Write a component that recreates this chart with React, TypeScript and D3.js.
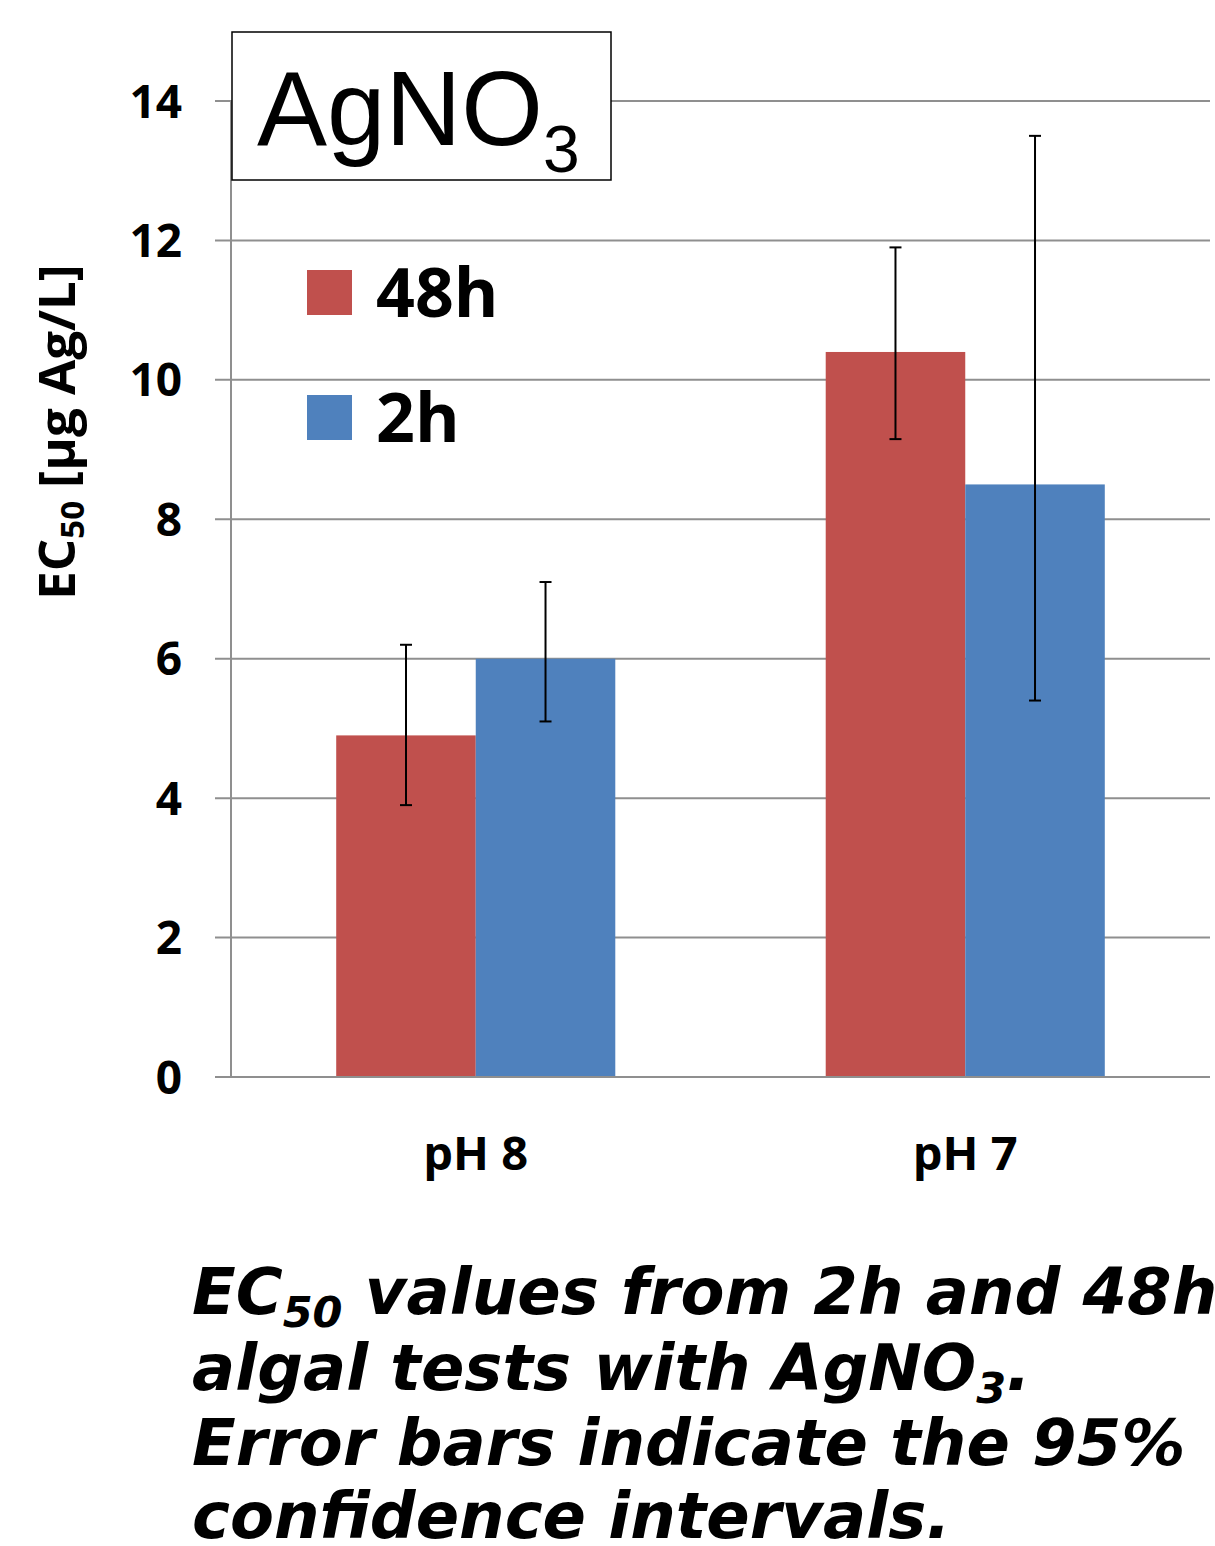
import React from 'react';
import * as d3 from 'd3';

// chart data
const categories = ['pH 8', 'pH 7'];
const seriesNames = ['48h', '2h'];
const seriesColors = ['#C0504D', '#4F81BD'];
const values48h = [4.9, 10.4];
const values2h = [6.0, 8.5];
const lower48h = [3.9, 9.15];
const upper48h = [6.2, 11.9];
const lower2h = [5.1, 5.4];
const upper2h = [7.1, 13.5];
const yTicks = [0, 2, 4, 6, 8, 10, 12, 14];

const W = 1215;
const H = 1546;
const plot = { left: 231, right: 1210, top: 101, bottom: 1077 };

const tickFont = '"Open Sans", "DejaVu Sans", sans-serif';
const captionFont = '"DejaVu Sans", Verdana, sans-serif';

export default function App() {
  const y = d3.scaleLinear().domain([0, 14]).range([plot.bottom, plot.top]);
  const x0 = d3.scaleBand<string>().domain(categories).range([plot.left, plot.right]).padding(0);
  const x1 = d3
    .scaleBand<string>()
    .domain(seriesNames)
    .range([0, x0.bandwidth()])
    .paddingInner(0)
    .paddingOuter(0.754);

  const series = [
    { name: seriesNames[0], values: values48h, lo: lower48h, hi: upper48h, color: seriesColors[0] },
    { name: seriesNames[1], values: values2h, lo: lower2h, hi: upper2h, color: seriesColors[1] },
  ];

  const capHalf = 6;

  return (
    <svg width={W} height={H} style={{ display: 'block', background: '#fff' }}>
      <style>{'body{margin:0}'}</style>

      {/* gridlines */}
      {yTicks.map(t => (
        <line
          key={'g' + t}
          x1={plot.left - 16}
          x2={plot.right}
          y1={y(t)}
          y2={y(t)}
          stroke="#8f8f8f"
          strokeWidth={2}
        />
      ))}

      {/* y axis line */}
      <line x1={plot.left} x2={plot.left} y1={plot.top} y2={plot.bottom} stroke="#8f8f8f" strokeWidth={2} />

      {/* bars */}
      {series.map(s =>
        categories.map((c, i) => (
          <rect
            key={s.name + c}
            x={(x0(c) ?? 0) + (x1(s.name) ?? 0)}
            y={y(s.values[i])}
            width={x1.bandwidth()}
            height={y(0) - y(s.values[i])}
            fill={s.color}
          />
        ))
      )}

      {/* x axis line on top of bars */}
      <line x1={plot.left - 16} x2={plot.right} y1={y(0)} y2={y(0)} stroke="#8f8f8f" strokeWidth={2} />

      {/* error bars */}
      {series.map(s =>
        categories.map((c, i) => {
          const cx = (x0(c) ?? 0) + (x1(s.name) ?? 0) + x1.bandwidth() / 2;
          return (
            <g key={'e' + s.name + c} stroke="#000" strokeWidth={2}>
              <line x1={cx} x2={cx} y1={y(s.lo[i])} y2={y(s.hi[i])} />
              <line x1={cx - capHalf} x2={cx + capHalf} y1={y(s.hi[i])} y2={y(s.hi[i])} />
              <line x1={cx - capHalf} x2={cx + capHalf} y1={y(s.lo[i])} y2={y(s.lo[i])} />
            </g>
          );
        })
      )}

      {/* y tick labels */}
      {yTicks.map(t => (
        <text
          key={'t' + t}
          x={182}
          y={y(t)}
          dy="0.36em"
          textAnchor="end"
          fontFamily={tickFont}
          fontWeight="bold"
          fontSize={46}
        >
          {t}
        </text>
      ))}

      {/* x category labels */}
      {categories.map(c => (
        <text
          key={'c' + c}
          x={(x0(c) ?? 0) + x0.bandwidth() / 2}
          y={1170}
          textAnchor="middle"
          fontFamily={tickFont}
          fontWeight="bold"
          fontSize={47}
        >
          {c}
        </text>
      ))}

      {/* y axis title */}
      <text
        transform="translate(75,432) rotate(-90)"
        textAnchor="middle"
        fontFamily={tickFont}
        fontWeight="bold"
        fontSize={51}
      >
        EC
        <tspan fontSize={33} dy={9}>50</tspan>
        <tspan dy={-9}> [µg Ag/L]</tspan>
      </text>

      {/* title box */}
      <rect x={232} y={32} width={379} height={148} fill="#fff" stroke="#000" strokeWidth={1.5} />
      <text x={257} y={145} fontFamily='"Liberation Sans", Arial, sans-serif' fontSize={105}>
        AgNO
        <tspan fontSize={66} dy={27}>3</tspan>
      </text>

      {/* legend */}
      {series.map((s, i) => (
        <g key={'l' + s.name} transform={`translate(307,${270 + i * 125})`}>
          <rect width={45} height={45} fill={s.color} />
          <text x={69} y={47} fontFamily={tickFont} fontWeight="bold" fontSize={68}>
            {s.name}
          </text>
        </g>
      ))}

      {/* caption */}
      <g fontFamily={captionFont} fontWeight="bold" fontStyle="italic" fontSize={64}>
        <text x={192} y={1314}>
          EC<tspan fontSize={43} dy={13}>50</tspan>
          <tspan dy={-13}> values from 2h and 48h</tspan>
        </text>
        <text x={192} y={1390}>
          algal tests with AgNO<tspan fontSize={43} dy={13}>3</tspan>
          <tspan dy={-13}>.</tspan>
        </text>
        <text x={192} y={1465}>Error bars indicate the 95%</text>
        <text x={192} y={1538}>confidence intervals.</text>
      </g>
    </svg>
  );
}
